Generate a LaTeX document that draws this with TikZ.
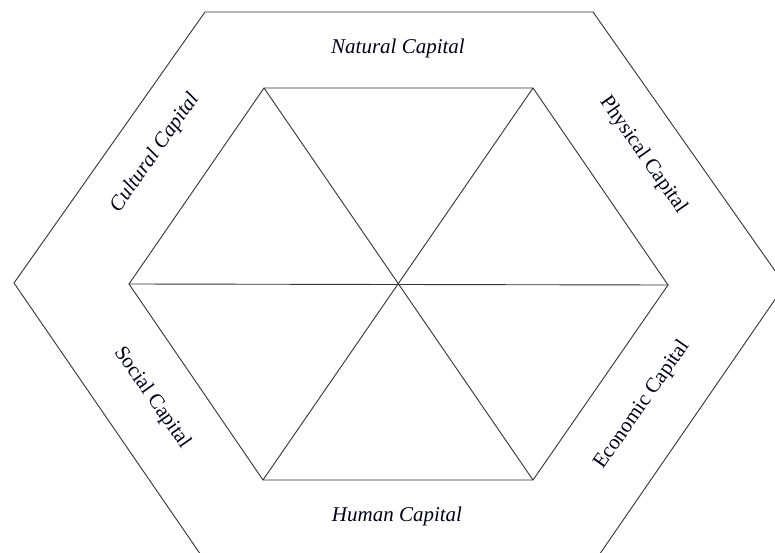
\documentclass[tikz,border=0pt]{standalone}
\usepackage{fontspec}
\setmainfont{Liberation Serif}
\begin{document}
\begin{tikzpicture}[x=1pt,y=-1pt,
  edge/.style={draw=black!80, line width=0.9pt, line join=miter},
  lab/.style={text=black!75!blue!40!black, font=\fontsize{21}{24}\selectfont, inner sep=0pt},
  ilab/.style={lab, font=\fontsize{21}{24}\selectfont\itshape}]
\useasboundingbox (0,0) rectangle (775,553);
\fill[white] (0,0) rectangle (775,553);
% outer hexagon
\coordinate (o1) at (205,12);
\coordinate (o2) at (593,12);
\coordinate (o3) at (785,285);
\coordinate (o4) at (597,558);
\coordinate (o5) at (203,558);
\coordinate (o6) at (14,283);
\begin{scope}
\clip (0,0) rectangle (775,553);
\draw[edge] (o1) -- (o2) -- (o3) -- (o4) -- (o5) -- (o6) -- cycle;
\end{scope}
% inner hexagon
\coordinate (i1) at (264,88);
\coordinate (i2) at (533,88);
\coordinate (i3) at (668,285);
\coordinate (i4) at (533,480);
\coordinate (i5) at (263,480);
\coordinate (i6) at (129,284);
\coordinate (c) at (398.5,284.5);
\draw[edge] (i1) -- (i2) -- (i3) -- (i4) -- (i5) -- (i6) -- cycle;
\draw[edge] (i1) -- (i4);
\draw[edge] (i2) -- (i5);
\draw[edge] (i6) -- (i3);
% labels
\node[ilab] (nat) at (398,48) {Natural Capital};
\node[ilab] (hum) at (397,516) {Human Capital};
\node[ilab, rotate=55] (cul) at (155,153) {Cultural Capital};
\node[lab, rotate=-55] (phy) at (643,155) {Physical Capital};
\node[lab, rotate=-55] (soc) at (152,398) {Social Capital};
\node[lab, rotate=55] (eco) at (642,405) {Economic Capital};
\end{tikzpicture}
\end{document}
